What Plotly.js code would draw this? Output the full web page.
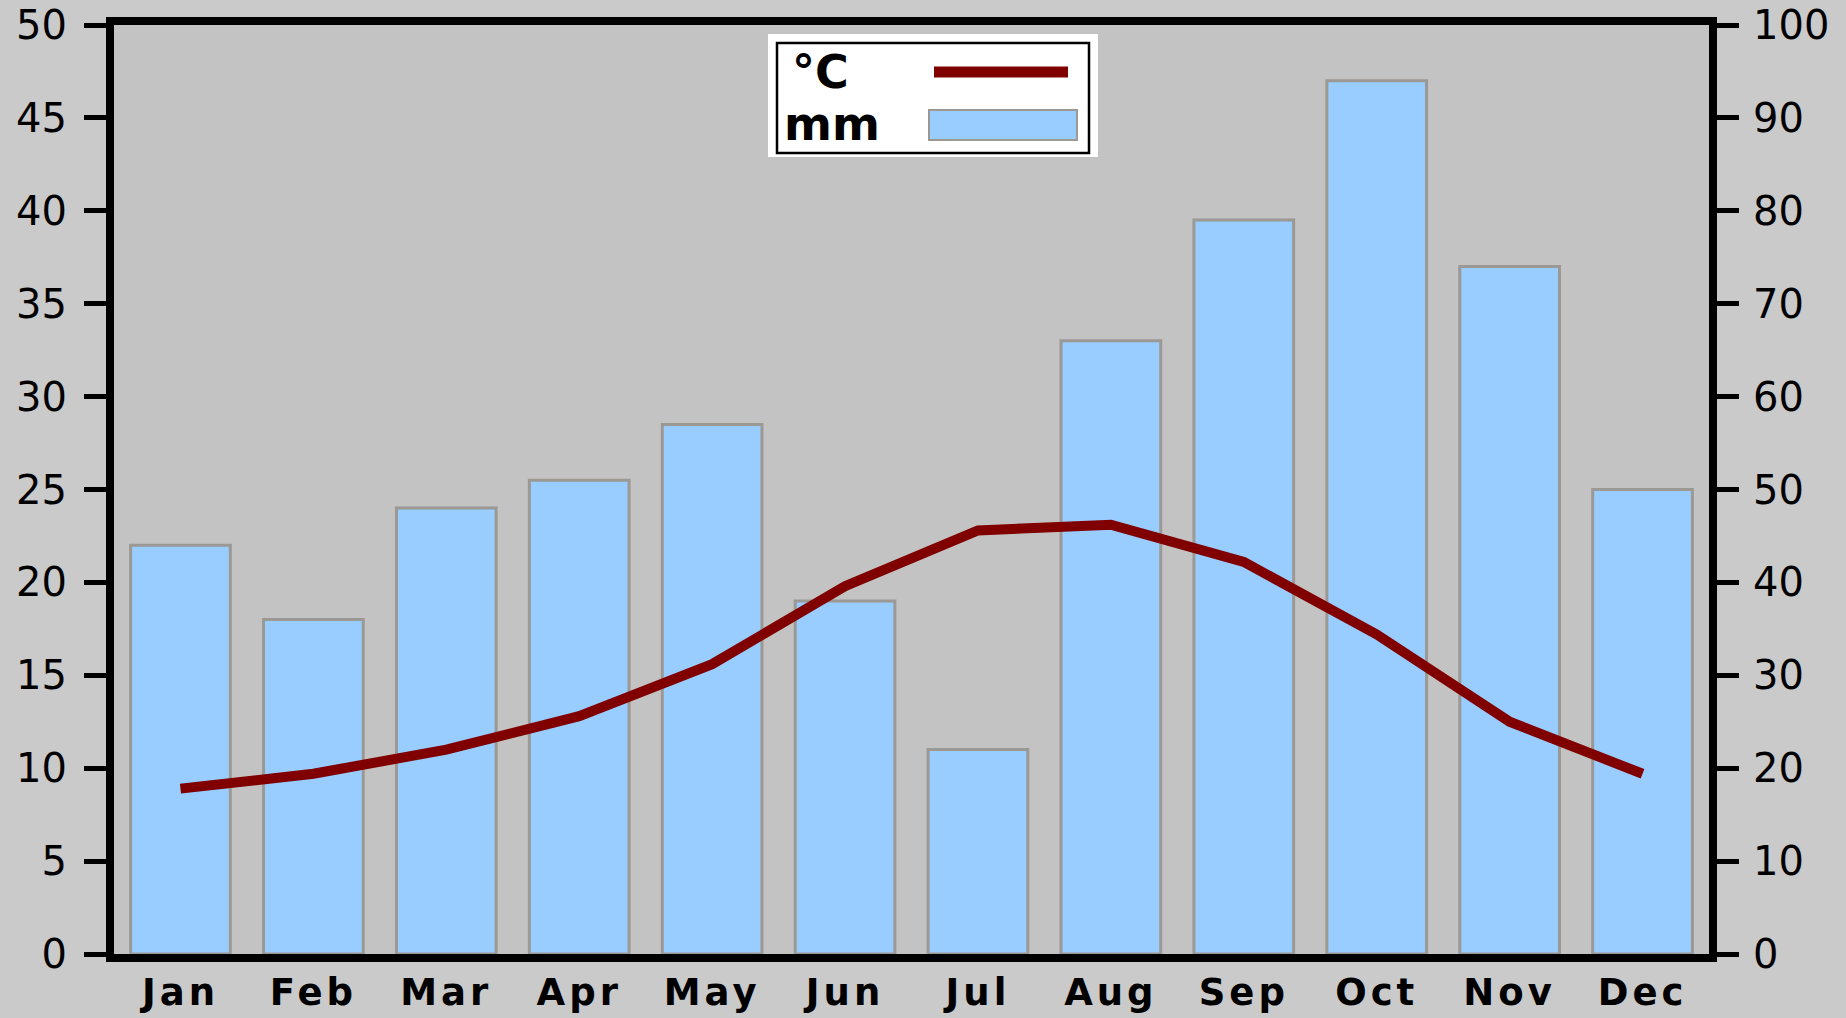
<!DOCTYPE html>
<html>
<head>
<meta charset="utf-8">
<script src="https://cdn.plot.ly/plotly-3.0.1.min.js"></script>
<style>
html,body{margin:0;padding:0;background:#cacaca;}
#chart{width:1846px;height:1018px;}
#chart .xtick text{letter-spacing:4px;}
</style>
</head>
<body>
<div id="chart"></div>
<script>
// ---- data ----
const months = ['Jan','Feb','Mar','Apr','May','Jun','Jul','Aug','Sep','Oct','Nov','Dec'];
const precipMM = [44, 36, 48, 51, 57, 38, 22, 66, 79, 94, 74, 50];
const tempC = [8.9, 9.7, 11.0, 12.8, 15.6, 19.8, 22.8, 23.1, 21.1, 17.2, 12.5, 9.7];
const seriesNames = ['°C', 'mm'];
const leftTicks = [0, 5, 10, 15, 20, 25, 30, 35, 40, 45, 50];
const rightTicks = [0, 10, 20, 30, 40, 50, 60, 70, 80, 90, 100];

// ---- layout geometry (pixels) ----
const W = 1846, H = 1018;
const L = 114, R = 1709, T = 25, B = 954;
const fx = px => (px - L) / (R - L);
const fy = py => (B - py) / (B - T);

const lineColor = '#800000';
const barColor = '#99ccff';
const barEdge = '#9c9894';
const tickFont = {family: 'DejaVu Sans', size: 40, color: '#000'};

const traces = [
  {
    type: 'bar', name: seriesNames[1], x: months, y: precipMM, yaxis: 'y',
    marker: {color: barColor, line: {color: barEdge, width: 3}},
    hoverinfo: 'skip'
  },
  {
    type: 'scatter', mode: 'lines', name: seriesNames[0], x: months, y: tempC, yaxis: 'y2',
    line: {color: lineColor, width: 10, shape: 'linear'},
    hoverinfo: 'skip'
  }
];

const layout = {
  width: W, height: H,
  margin: {l: L, r: W - R, t: T, b: H - B, pad: 0},
  paper_bgcolor: '#cacaca',
  plot_bgcolor: '#c3c3c3',
  showlegend: false,
  bargap: 0.25,
  xaxis: {
    type: 'category', showline: true, linewidth: 8, linecolor: '#000', mirror: true,
    ticks: '', showgrid: false, zeroline: false,
    tickfont: {family: 'DejaVu Sans', size: 37, color: '#000', weight: 'bold'},
    ticklabelstandoff: -1
  },
  // mm axis (right), bars
  yaxis: {
    range: [0, 100], tickvals: rightTicks, ticktext: rightTicks.map(String),
    side: 'right',
    showline: true, linewidth: 8, linecolor: '#000',
    ticks: 'outside', ticklen: 22, tickwidth: 5, tickcolor: '#000',
    showgrid: false, zeroline: false, tickfont: tickFont, ticklabelstandoff: 6
  },
  // °C axis (left), line — overlaying so the line is drawn above the bars
  yaxis2: {
    range: [0, 50], tickvals: leftTicks, ticktext: leftTicks.map(String),
    overlaying: 'y', side: 'left',
    showline: true, linewidth: 8, linecolor: '#000',
    ticks: 'outside', ticklen: 22, tickwidth: 5, tickcolor: '#000',
    showgrid: false, zeroline: false, tickfont: tickFont, ticklabelstandoff: 9
  },
  shapes: [
    {type: 'rect', xref: 'paper', yref: 'paper', x0: fx(768), x1: fx(1098), y0: fy(157), y1: fy(34),
     fillcolor: '#ffffff', line: {width: 0}, layer: 'above'},
    {type: 'rect', xref: 'paper', yref: 'paper', x0: fx(777), x1: fx(1089), y0: fy(153), y1: fy(43),
     fillcolor: 'rgba(0,0,0,0)', line: {color: '#000', width: 2.5}, layer: 'above'},
    {type: 'line', xref: 'paper', yref: 'paper', x0: fx(934), x1: fx(1068), y0: fy(72), y1: fy(72),
     line: {color: lineColor, width: 11}, layer: 'above'},
    {type: 'rect', xref: 'paper', yref: 'paper', x0: fx(929), x1: fx(1077), y0: fy(140), y1: fy(110),
     fillcolor: barColor, line: {color: barEdge, width: 2}, layer: 'above'}
  ],
  annotations: [
    {xref: 'paper', yref: 'paper', x: fx(790), y: fy(72), xanchor: 'left', yanchor: 'middle',
     text: seriesNames[0], showarrow: false,
     font: {family: 'DejaVu Sans', size: 46, color: '#000', weight: 'bold'}},
    {xref: 'paper', yref: 'paper', x: fx(782), y: fy(124), xanchor: 'left', yanchor: 'middle',
     text: seriesNames[1], showarrow: false,
     font: {family: 'DejaVu Sans', size: 46, color: '#000', weight: 'bold'}}
  ]
};

Plotly.newPlot('chart', traces, layout, {staticPlot: true, displayModeBar: false});
</script>
</body>
</html>
